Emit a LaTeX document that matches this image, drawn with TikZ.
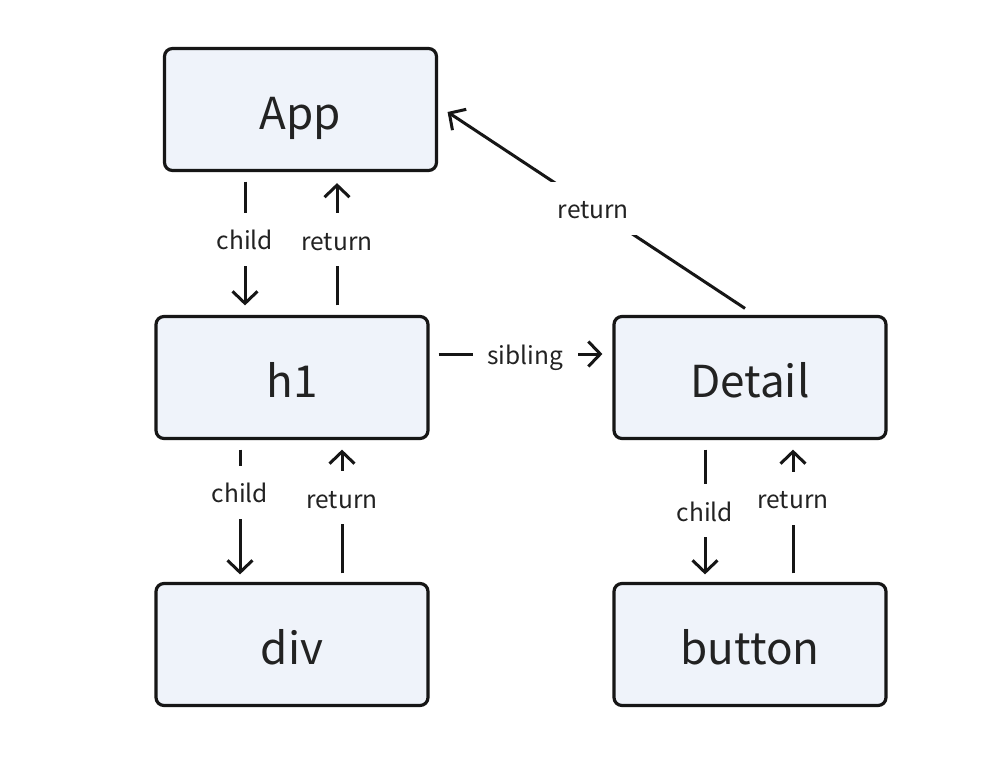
\documentclass[tikz,border=0pt]{standalone}
\usepackage{fontspec}
\setmainfont{Noto Sans CJK SC}
\usetikzlibrary{arrows.meta}
\definecolor{boxfill}{HTML}{EFF3FA}
\definecolor{ink}{HTML}{161616}
\definecolor{txt}{HTML}{222222}
\tikzset{
  box/.style={draw=ink, line width=3.2pt, fill=boxfill, rounded corners=8pt,
    minimum width=272pt, minimum height=122pt, inner sep=0pt,
    text height=44pt, text depth=5pt,
    text=txt, font=\fontsize{44}{50}\selectfont},
  arr/.style={draw=ink, line width=3pt, -{Straight Barb[length=12pt,width=25pt]}},
  lbl/.style={fill=white, text=txt, font=\fontsize{24.5}{28}\selectfont,
    text height=21pt, text depth=-1pt, inner xsep=14.5pt, inner ysep=16pt}
}
\begin{document}
\begin{tikzpicture}[x=1pt,y=-1pt]
\useasboundingbox[fill=white] (0,0) rectangle (1004,768);
\node[box] (App) at (300.5,109.5) {App};
\node[box] (h1) at (292,377.5) {h1};
\node[box] (Detail) at (750,377.5) {Detail};
\node[box] (div) at (292,644.5) {div};
\node[box] (button) at (750,644.5) {button};
% App <-> h1
\draw[arr] ([xshift=-55.5pt,yshift=-9.5pt]App.south) -- node[lbl,pos=0.465]{child} ([xshift=-47pt,yshift=9.5pt]h1.north);
\draw[arr] ([xshift=45pt,yshift=9.5pt]h1.north) -- node[lbl,pos=0.536]{return} ([xshift=36.5pt,yshift=-11pt]App.south);
% h1 <-> div
\draw[arr] ([xshift=-52pt,yshift=-9.5pt]h1.south) -- node[lbl,pos=0.34]{child} ([xshift=-52pt,yshift=7.5pt]div.north);
\draw[arr] ([xshift=50pt,yshift=8.5pt]div.north) -- node[lbl,pos=0.61]{return} ([xshift=50pt,yshift=-9.5pt]h1.south);
% Detail <-> button
\draw[arr] ([xshift=-45pt,yshift=-9.5pt]Detail.south) -- node[lbl,pos=0.49]{child} ([xshift=-45pt,yshift=7.5pt]button.north);
\draw[arr] ([xshift=43pt,yshift=8.5pt]button.north) -- node[lbl,pos=0.606]{return} ([xshift=43pt,yshift=-9.5pt]Detail.south);
% sibling
\draw[arr] ([xshift=9pt,yshift=23.5pt]h1.east) -- node[lbl,pos=0.53]{sibling} ([xshift=-10pt,yshift=23.5pt]Detail.west);
% Detail -> App
\draw[arr] ([xshift=-5pt,yshift=6.5pt]Detail.north) -- node[lbl,pos=0.51]{return} ([xshift=9.5pt,yshift=-2.5pt]App.east);
\end{tikzpicture}
\end{document}
